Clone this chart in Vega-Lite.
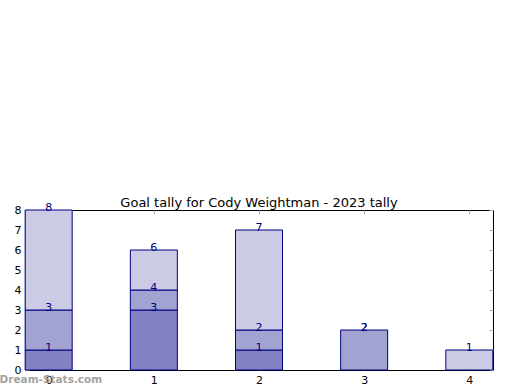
{
  "$schema": "https://vega.github.io/schema/vega-lite/v6.json",
  "width": 468,
  "height": 160,
  "autosize": "none",
  "padding": {"left": 25, "top": 210, "right": 27, "bottom": 20},
  "background": "white",
  "title": {"text": "Goal tally for Cody Weightman - 2023 tally", "font": "DejaVu Sans", "fontSize": 13, "fontWeight": "normal", "color": "black", "offset": -8},
  "config": {
    "view": {"stroke": "black", "strokeWidth": 1},
    "scale": {"continuousPadding": 0},
    "axis": {"domain": false, "grid": false, "tickColor": "#b0b0b0", "tickSize": -4, "tickWidth": 1, "labelPadding": 8, "labelFont": "DejaVu Sans", "labelFontSize": 11, "labelColor": "black", "title": null}
  },
  "datasets": {
    "bars": [
      {"x": 0, "seg": "a", "start": 0, "end": 1},
      {"x": 0, "seg": "b", "start": 1, "end": 3},
      {"x": 0, "seg": "c", "start": 3, "end": 8},
      {"x": 1, "seg": "a", "start": 0, "end": 3},
      {"x": 1, "seg": "b", "start": 3, "end": 4},
      {"x": 1, "seg": "c", "start": 4, "end": 6},
      {"x": 2, "seg": "a", "start": 0, "end": 1},
      {"x": 2, "seg": "b", "start": 1, "end": 2},
      {"x": 2, "seg": "c", "start": 2, "end": 7},
      {"x": 3, "seg": "b", "start": 0, "end": 2},
      {"x": 4, "seg": "c", "start": 0, "end": 1}
    ],
    "labels": [
      {"x": 0, "v": 1}, {"x": 0, "v": 3}, {"x": 0, "v": 8},
      {"x": 1, "v": 3}, {"x": 1, "v": 4}, {"x": 1, "v": 6},
      {"x": 2, "v": 1}, {"x": 2, "v": 2}, {"x": 2, "v": 7},
      {"x": 3, "v": 2}, {"x": 3, "v": 2},
      {"x": 4, "v": 1}
    ],
    "mark": [{"t": "Dream-Stats.com", "x": -0.467, "y": -0.5}]
  },
  "layer": [
    {
      "data": {"name": "bars"},
      "mark": {"type": "bar", "size": 47, "stroke": "#000080", "strokeWidth": 1},
      "encoding": {
        "x": {"field": "x", "type": "quantitative", "scale": {"domain": [-0.225, 4.225], "nice": false, "zero": false, "padding": 0}, "axis": {"values": [0, 1, 2, 3, 4], "format": "d", "orient": "bottom"}},
        "y": {"field": "end", "type": "quantitative", "scale": {"domain": [0, 8], "nice": false, "zero": false, "padding": 0}, "axis": {"values": [0, 1, 2, 3, 4, 5, 6, 7, 8], "format": "d", "orient": "left"}},
        "y2": {"field": "start"},
        "color": {"field": "seg", "type": "nominal", "scale": {"domain": ["a", "b", "c"], "range": ["#8282c2", "#a3a3d1", "#cbcbe5"]}, "legend": null}
      }
    },
    {
      "data": {"name": "labels"},
      "mark": {"type": "text", "font": "DejaVu Sans", "fontSize": 11, "color": "#000080", "baseline": "alphabetic", "dy": 1},
      "encoding": {
        "x": {"field": "x", "type": "quantitative", "axis": {"values": [0, 1, 2, 3, 4], "orient": "top", "labels": false}},
        "y": {"field": "v", "type": "quantitative", "axis": {"values": [0, 1, 2, 3, 4, 5, 6, 7, 8], "orient": "right", "labels": false}},
        "text": {"field": "v", "type": "quantitative"}
      }
    },
    {
      "data": {"name": "mark"},
      "mark": {"type": "text", "font": "DejaVu Sans", "fontSize": 10.5, "fontWeight": "bold", "color": "#999999", "align": "left", "baseline": "middle", "opacity": 0.9},
      "encoding": {
        "x": {"field": "x", "type": "quantitative", "axis": null},
        "y": {"field": "y", "type": "quantitative", "axis": null},
        "text": {"field": "t"}
      }
    }
  ],
  "resolve": {"axis": {"x": "independent", "y": "independent"}}
}
